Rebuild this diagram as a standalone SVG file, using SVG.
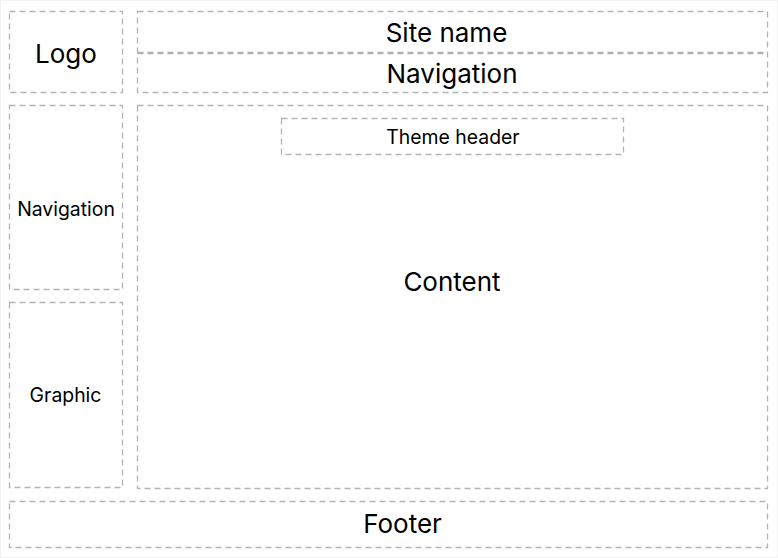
<svg xmlns="http://www.w3.org/2000/svg" width="778" height="558" viewBox="0 0 778 558">
<style>
.box{fill:none;stroke:#b3b3b3;stroke-width:1.3;stroke-dasharray:6 4}
.div{fill:none;stroke:#b0b0b0;stroke-width:2.4;stroke-dasharray:6 4}
text{font-family:Inter,"Liberation Sans",sans-serif;fill:#000;text-anchor:middle}
.lg{font-size:26px}
.sm{font-size:19.4px}
</style>
<rect x="0" y="0" width="778" height="558" fill="#ffffff"/>
<rect x="0.5" y="0.5" width="777" height="557" fill="none" stroke="#f2f2f2"/>
<g id="logo"><rect class="box" x="9.5" y="11.5" width="113" height="81"/><text class="lg" x="66" y="63">Logo</text></g>
<g id="header"><rect class="box" x="137.5" y="11.5" width="630" height="81"/><line class="div" x1="137.5" y1="53" x2="767.5" y2="53"/>
<text class="lg" x="446.5" y="42">Site name</text><text class="lg" x="452" y="83">Navigation</text></g>
<g id="nav"><rect class="box" x="9.5" y="105.5" width="113" height="184"/><text class="sm" x="66" y="216">Navigation</text></g>
<g id="graphic"><rect class="box" x="9.5" y="302.5" width="113" height="185"/><text class="sm" x="65.5" y="402">Graphic</text></g>
<g id="content"><rect class="box" x="137.5" y="105.5" width="630" height="383"/><text class="lg" x="452" y="291">Content</text></g>
<g id="theme"><rect class="box" x="281.5" y="118.5" width="342" height="36"/><text class="sm" x="453" y="144">Theme header</text></g>
<g id="footer"><rect class="box" x="9.5" y="501.5" width="758" height="46"/><text class="lg" x="402.5" y="533">Footer</text></g>
<g id="connectors"></g>
</svg>
